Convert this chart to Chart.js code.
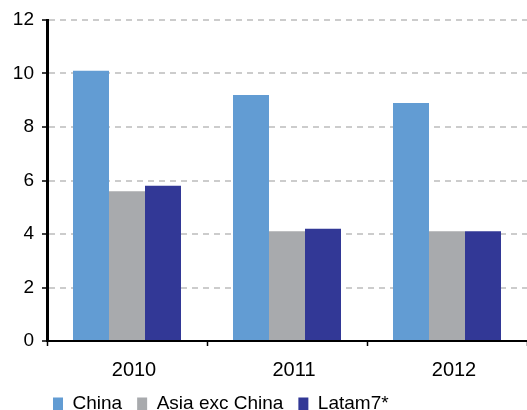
<!DOCTYPE html>
<html>
<head>
<meta charset="utf-8">
<script src="https://cdn.jsdelivr.net/npm/chart.js@4/dist/chart.umd.min.js"></script>
<style>
  html, body { margin: 0; padding: 0; background: #fff; }
  #wrap { width: 527px; height: 410px; }
</style>
</head>
<body>
<div id="wrap"><canvas id="chart" width="527" height="410"></canvas></div>
<script>
// Years on the category axis
const categories = ['2010', '2011', '2012'];

// Series values
const chinaValues = [10.1, 9.2, 8.9];
const asiaExChinaValues = [5.6, 4.1, 4.1];
const latam7Values = [5.8, 4.2, 4.1];

// Series names
const seriesNames = ['China', 'Asia exc China', 'Latam7*'];

// Value axis ticks
const yTicks = [0, 2, 4, 6, 8, 10, 12];

Chart.defaults.font.family = '"Liberation Sans", Arial, Helvetica, sans-serif';
Chart.defaults.color = '#000';

// Places the legend under the axis labels, aligned with the first bar group,
// and lets the category labels use the space below the axis
const legendPlacement = {
  id: 'legendPlacement',
  afterLayout(chart) {
    const lg = chart.legend;
    if (lg) {
      const dx = 38 - lg.left;
      const dy = 379.5 - lg.top;
      lg.left += dx; lg.right += dx;
      lg.top += dy; lg.bottom += dy;
    }
    const xs = chart.scales.x;
    xs.bottom = chart.height;
    xs.height = xs.bottom - xs.top;
  }
};

new Chart(document.getElementById('chart'), {
  type: 'bar',
  data: {
    labels: categories,
    datasets: [
      { label: seriesNames[0], data: chinaValues, backgroundColor: '#629cd3' },
      { label: seriesNames[1], data: asiaExChinaValues, backgroundColor: '#a8aaad' },
      { label: seriesNames[2], data: latam7Values, backgroundColor: '#323896' }
    ]
  },
  options: {
    responsive: false,
    animation: false,
    events: [],
    layout: { padding: { top: 20, left: 0, right: 0, bottom: 0 } },
    datasets: {
      bar: { categoryPercentage: 0.675, barPercentage: 1.0, borderWidth: 0 }
    },
    plugins: {
      tooltip: { enabled: false },
      legend: {
        position: 'bottom',
        align: 'start',
        labels: {
          boxWidth: 10,
          boxHeight: 13,
          padding: 15,
          color: '#000',
          font: { size: 19 }
        }
      }
    },
    scales: {
      x: {
        grid: {
          display: true,
          drawOnChartArea: false,
          drawTicks: true,
          tickLength: 5,
          tickColor: '#000',
          tickWidth: 1.5,
          offset: true
        },
        border: { display: true, color: '#000', width: 2 },
        ticks: { color: '#000', font: { size: 20 }, padding: 12, labelOffset: 7 },
        afterFit: (s) => { s.height = 25; }
      },
      y: {
        min: 0,
        max: 12,
        afterBuildTicks: (s) => { s.ticks = yTicks.map(v => ({ value: v })); },
        ticks: { color: '#000', font: { size: 19 }, padding: 8 },
        grid: {
          color: '#cccccc',
          lineWidth: 2,
          tickColor: '#000',
          tickLength: 5,
          tickWidth: 1.5,
          tickBorderDash: []
        },
        border: { display: true, color: '#000', width: 3, dash: [6, 5] },
        afterFit: (s) => { s.width = 47; }
      }
    }
  },
  plugins: [legendPlacement]
});
</script>
</body>
</html>
